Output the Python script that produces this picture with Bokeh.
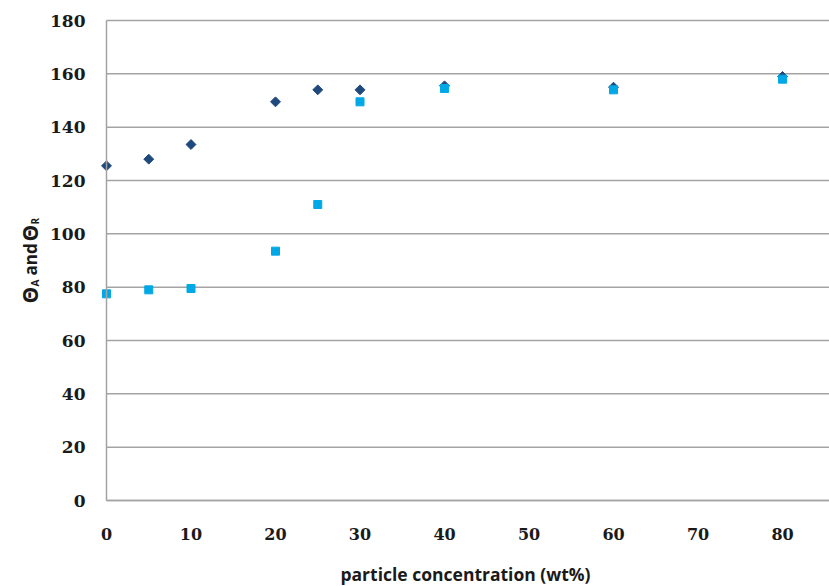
import math
from bokeh.plotting import figure
from bokeh.models import Range1d, FixedTicker
from bokeh.core.properties import value
from bokeh.embed import file_html
from bokeh.resources import INLINE

# data
conc = [0, 5, 10, 20, 25, 30, 40, 60, 80]
theta_a = [125.5, 128, 133.5, 149.5, 154, 154, 155.5, 155, 159]
theta_r = [77.5, 79, 79.5, 93.5, 111, 149.5, 154.5, 154, 158]
x_ticks = [0, 10, 20, 30, 40, 50, 60, 70, 80]
y_ticks = [0, 20, 40, 60, 80, 100, 120, 140, 160, 180]
x_title = "particle concentration (wt%)"

GRID = "#a3a3a3"
TXT = "#1a1a1a"
W, H = 829, 586
# the frame fills the whole canvas; data (0, 0) sits at pixel (106, 500)
X_MIN, X_MAX = -12.544, 85.56
Y_MIN, Y_MAX = -32.25, 187.5
X_END, Y_END = X_MAX, 180

p = figure(width=W, height=H, output_backend="svg", toolbar_location=None,
           x_range=Range1d(X_MIN, X_MAX), y_range=Range1d(Y_MIN, Y_MAX),
           min_border=0)
p.outline_line_color = None
p.background_fill_color = "white"
p.border_fill_color = "white"
p.grid.visible = False

# horizontal gridlines starting at x = 0 (data-driven)
p.segment(x0=[0] * len(y_ticks), y0=y_ticks, x1=[X_END] * len(y_ticks), y1=y_ticks,
          line_color=GRID, line_width=1.5)

# axes pinned at 0 inside the frame
ya = p.yaxis[0]
ya.fixed_location = 0
ya.bounds = (0, Y_END)
ya.ticker = FixedTicker(ticks=y_ticks)
ya.major_label_text_font = "DejaVu Serif"
ya.major_label_text_font_style = "bold"
ya.major_label_text_font_size = "17px"
ya.major_label_standoff = 21

xa = p.xaxis[0]
xa.fixed_location = 0
xa.bounds = (0, X_END)
xa.ticker = FixedTicker(ticks=x_ticks)
xa.major_label_text_font = "DejaVu Serif"
xa.major_label_text_font_style = "bold"
xa.major_label_text_font_size = "16px"
xa.major_label_standoff = 27

for ax in (xa, ya):
    ax.major_tick_in = 0
    ax.major_tick_out = 0
    ax.minor_tick_in = 0
    ax.minor_tick_out = 0
    ax.axis_line_color = GRID
    ax.axis_line_width = 1.5
    ax.major_label_text_color = TXT

p.scatter(conc, theta_a, marker="square", angle=math.pi / 4, size=7,
          fill_color="#1F497D", line_color="#1F497D")
p.scatter(conc, theta_r, marker="square", size=8,
          fill_color="#00A8E6", line_color="#00A8E6")

# text placement helpers (reference pixel -> data)
def dx(px):
    return (px - 106) / 8.45

def dy(py):
    return (500 - py) / 2.667

# x-axis title
p.text(x=[dx(465)], y=[dy(574)], text=[x_title],
       text_font=value("Open Sans"), text_font_style="bold",
       text_font_size=value("17.5px"), text_color=TXT,
       text_align="center", text_baseline="middle")

# rotated y-axis title  Θ_A and Θ_R  built from pieces
pieces = [
    ("\u0398", 30, 303, "21px"),
    ("A", 35, 286, "10px"),
    ("and", 30, 275, "17px"),
    ("\u0398", 30, 241, "21px"),
    ("R", 35, 224, "10px"),
]
for txt, bx, by, fs in pieces:
    p.text(x=[dx(bx)], y=[dy(by)], text=[txt], angle=math.pi / 2,
           text_font=value("Open Sans"), text_font_style="bold",
           text_font_size=value(fs), text_color=TXT,
           text_align="left", text_baseline="alphabetic")

open("out.html", "w").write(file_html(p, INLINE))
